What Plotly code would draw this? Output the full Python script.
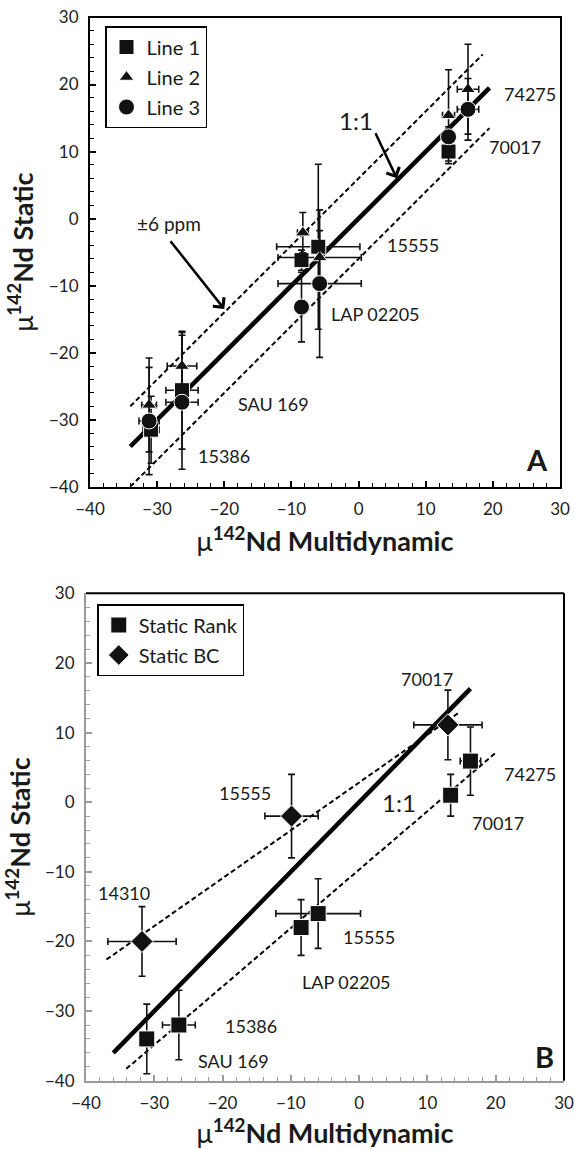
import plotly.graph_objects as go

# ---------------- Panel A data ----------------
line1_samples = ["70017", "15555", "LAP 02205", "15386", "SAU 169"]
line1_x = [13.4, -6.0, -8.5, -26.3, -30.9]
line1_y = [10.0, -4.2, -6.2, -25.6, -31.5]
line1_xerr = [0.9, 6.2, 0.8, 2.4, 1.2]
line1_yerr = [1.8, 12.3, 1.5, 8.8, 5.0]

line2_samples = ["74275", "70017", "15555", "LAP 02205", "15386", "SAU 169"]
line2_x = [16.3, 13.4, -5.8, -8.3, -26.3, -31.2]
line2_y = [19.3, 15.4, -5.8, -2.1, -22.0, -27.8]
line2_xerr = [1.6, 0.9, 6.2, 0.8, 2.2, 1.1]
line2_yerr = [6.7, 6.8, 4.0, 3.0, 5.0, 7.0]

line3_samples = ["74275", "70017", "15555", "LAP 02205", "15386", "SAU 169"]
line3_x = [16.3, 13.4, -5.8, -8.5, -26.3, -31.2]
line3_y = [16.3, 12.2, -9.7, -13.2, -27.4, -30.2]
line3_xerr = [1.6, 0.9, 6.2, 0.8, 2.4, 1.5]
line3_yerr = [4.6, 1.5, 11.0, 5.2, 10.0, 8.0]

# reference lines panel A (endpoints)
a_one_x = [-34.0, 19.5]
a_one_y = [-34.0, 19.5]
a_plus_x = [-34.0, 18.5]
a_plus_y = [-28.0, 24.5]
a_minus_x = [-34.0, 19.5]
a_minus_y = [-40.0, 13.5]

# ---------------- Panel B data ----------------
rank_samples = ["74275", "70017", "15555", "LAP 02205", "15386", "SAU 169"]
rank_x = [16.3, 13.4, -6.0, -8.5, -26.4, -31.1]
rank_y = [5.9, 1.0, -16.0, -18.0, -32.0, -34.0]
rank_xerr = [1.5, 0.0, 6.2, 0.0, 2.4, 0.0]
rank_yerr = [4.9, 3.0, 5.0, 4.0, 5.0, 5.0]

bc_samples = ["70017", "15555", "14310"]
bc_x = [13.0, -9.9, -31.8]
bc_y = [11.1, -2.0, -20.0]
bc_xerr = [5.0, 3.9, 5.0]
bc_yerr = [5.0, 6.0, 5.0]

b_one_x = [-36.0, 16.3]
b_one_y = [-36.0, 16.3]
b_bc_x = [-37.0, 14.8]
b_bc_y = [-22.6, 13.0]
b_rank_x = [-34.1, 20.0]
b_rank_y = [-38.3, 7.1]

# text labels
a_labels = ["74275", "70017", "15555", "LAP 02205", "SAU 169", "15386"]
a_label_x = [21.4, 19.2, 4.0, -4.4, -18.3, -24.2]
a_label_y = [18.6, 10.7, -4.0, -14.2, -27.6, -35.4]

b_labels = ["74275", "70017", "15386", "SAU 169", "15555", "LAP 02205"]
b_label_x = [20.85, 16.3, -20.0, -23.9, -2.66, -8.6]
b_label_y = [4.1, -3.0, -32.1, -37.1, -19.3, -25.8]
b_clabels = ["70017", "15555", "14310"]
b_clabel_x = [9.9, -16.7, -34.4]
b_clabel_y = [17.7, 1.3, -13.1]

W, H = 574, 1149
FONT = "Lato, 'Open Sans', sans-serif"
TXT = "#1a1a1a"
LBL = 18

fig = go.Figure()

def ref_line(x, y, xa, ya, width, dash=None):
    fig.add_trace(go.Scatter(x=x, y=y, mode="lines", xaxis=xa, yaxis=ya,
                             line=dict(color="black", width=width, dash=dash),
                             showlegend=False, hoverinfo="skip"))

ref_line(a_plus_x, a_plus_y, "x", "y", 2, "5px,3px")
ref_line(a_minus_x, a_minus_y, "x", "y", 2, "5px,3px")
ref_line(a_one_x, a_one_y, "x", "y", 4.5)

ref_line(b_bc_x, b_bc_y, "x2", "y2", 2, "5px,3px")
ref_line(b_rank_x, b_rank_y, "x2", "y2", 2, "5px,3px")
ref_line(b_one_x, b_one_y, "x2", "y2", 4.5)

def pts(name, x, y, xe, ye, sym, size, xa, ya, leg, grp):
    fig.add_trace(go.Scatter(
        x=x, y=y, mode="markers", name=name, xaxis=xa, yaxis=ya,
        legend=leg, legendgroup=grp,
        marker=dict(symbol=sym, size=size, color="#111111",
                    line=dict(color="white", width=1)),
        error_x=dict(type="data", array=xe, color="#111111", thickness=1.6, width=3.5),
        error_y=dict(type="data", array=ye, color="#111111", thickness=1.6, width=3.5),
    ))

pts("Line 1", line1_x, line1_y, line1_xerr, line1_yerr, "square", 15, "x", "y", "legend", "g1")
pts("Line 2", line2_x, line2_y, line2_xerr, line2_yerr, "triangle-up", 13, "x", "y", "legend", "g2")
pts("Line 3", line3_x, line3_y, line3_xerr, line3_yerr, "circle", 16, "x", "y", "legend", "g3")

pts("Static Rank", rank_x, rank_y, rank_xerr, rank_yerr, "square", 16, "x2", "y2", "legend2", "g4")
pts("Static BC", bc_x, bc_y, bc_xerr, bc_yerr, "diamond", 17, "x2", "y2", "legend2", "g5")

ann = []
for t, x, y in zip(a_labels, a_label_x, a_label_y):
    ann.append(dict(text=t, x=x, y=y, xref="x", yref="y", xanchor="left", yanchor="middle",
                    showarrow=False, font=dict(size=LBL, color=TXT, family=FONT)))
for t, x, y in zip(b_labels, b_label_x, b_label_y):
    ann.append(dict(text=t, x=x, y=y, xref="x2", yref="y2", xanchor="left", yanchor="middle",
                    showarrow=False, font=dict(size=LBL, color=TXT, family=FONT)))
for t, x, y in zip(b_clabels, b_clabel_x, b_clabel_y):
    ann.append(dict(text=t, x=x, y=y, xref="x2", yref="y2", xanchor="center", yanchor="middle",
                    showarrow=False, font=dict(size=LBL, color=TXT, family=FONT)))

# Panel letters and 1:1 / ±6 ppm texts
ann += [
    dict(text="<b>A</b>", x=26.5, y=-36, xref="x", yref="y", showarrow=False,
         font=dict(size=29, color=TXT, family=FONT)),
    dict(text="<b>B</b>", x=27.2, y=-36.5, xref="x2", yref="y2", showarrow=False,
         font=dict(size=29, color=TXT, family=FONT)),
    dict(text="1:1", x=-0.4, y=14.6, xref="x", yref="y", showarrow=False,
         font=dict(size=24, color=TXT, family=FONT)),
    dict(text="±6 ppm", x=-28.2, y=-0.7, xref="x", yref="y", showarrow=False,
         font=dict(size=19, color=TXT, family=FONT)),
    dict(text="1:1", x=5.8, y=-0.1, xref="x2", yref="y2", showarrow=False,
         font=dict(size=24, color=TXT, family=FONT)),
    # arrows
    dict(text=" ", x=5.7, y=6.0, ax=2.35, ay=13.1, xref="x", yref="y", axref="x", ayref="y",
         showarrow=True, arrowhead=4, arrowsize=1.1, arrowwidth=2.5, arrowcolor="black",
         font=dict(size=2)),
    dict(text=" ", x=-20.0, y=-13.5, ax=-28.3, ay=-3.0, xref="x", yref="y", axref="x", ayref="y",
         showarrow=True, arrowhead=4, arrowsize=1.1, arrowwidth=2.5, arrowcolor="black",
         font=dict(size=2)),
]

ttl_x = "μ<sup><b>142</b></sup><b>Nd Multidynamic</b>"
ttl_y = "μ<sup><b>142</b></sup><b>Nd Static</b>"

def axis(domain, color, linecolor, mirror, title, anchor, standoff):
    return dict(
        domain=domain, range=[-40, 30], dtick=10, tick0=0, anchor=anchor,
        showgrid=False, zeroline=False, showline=True, linecolor=linecolor, linewidth=2,
        mirror=mirror, ticks="inside", ticklen=6, tickwidth=1.5, tickcolor=color,
        minor=dict(dtick=2, ticks="inside", ticklen=3.5, tickwidth=1.2, tickcolor=color, showgrid=False),
        tickfont=dict(size=17, color="#222222", family=FONT),
        ticklabelstandoff=6,
        title=dict(text=title, font=dict(size=27, color=TXT, family=FONT), standoff=standoff),
        automargin=False, fixedrange=True,
    )

layout = dict(
    width=W, height=H, margin=dict(l=0, r=0, t=0, b=0),
    paper_bgcolor="white", plot_bgcolor="white",
    font=dict(family=FONT, color=TXT),
    xaxis=axis([90 / W, 560 / W], "black", "black", True, ttl_x, "y", 14),
    yaxis=axis([1 - 486.7 / H, 1 - 17.5 / H], "black", "black", True, ttl_y, "x", 8),
    xaxis2=axis([86 / W, 564 / W], "#9a9a9a", "#9a9a9a", False, ttl_x, "y2", 15),
    yaxis2=axis([1 - 1080.7 / H, 1 - 593.3 / H], "#9a9a9a", "#9a9a9a", False, ttl_y, "x2", 8),
    legend=dict(x=105 / W, y=1 - 26 / H, xanchor="left", yanchor="top",
                bordercolor="black", borderwidth=1.5, bgcolor="white",
                font=dict(size=20, color=TXT, family=FONT), tracegroupgap=1,
                itemwidth=30),
    legend2=dict(x=97.3 / W, y=1 - 604 / H, xanchor="left", yanchor="top",
                 bordercolor="black", borderwidth=1.5, bgcolor="white",
                 font=dict(size=20, color=TXT, family=FONT), tracegroupgap=1,
                 itemwidth=30),
    annotations=ann,
    shapes=[
        dict(type="line", xref="x2 domain", yref="y2 domain", x0=0, x1=1, y0=1, y1=1,
             line=dict(color="black", width=2)),
        dict(type="line", xref="x2 domain", yref="y2 domain", x0=1, x1=1, y0=0, y1=1,
             line=dict(color="black", width=2)),
    ],
)
fig.update_layout(**layout)
fig.write_html("out.html", config={"displayModeBar": False},
               post_script="document.body.style.margin='0';document.body.style.overflow='hidden';")
